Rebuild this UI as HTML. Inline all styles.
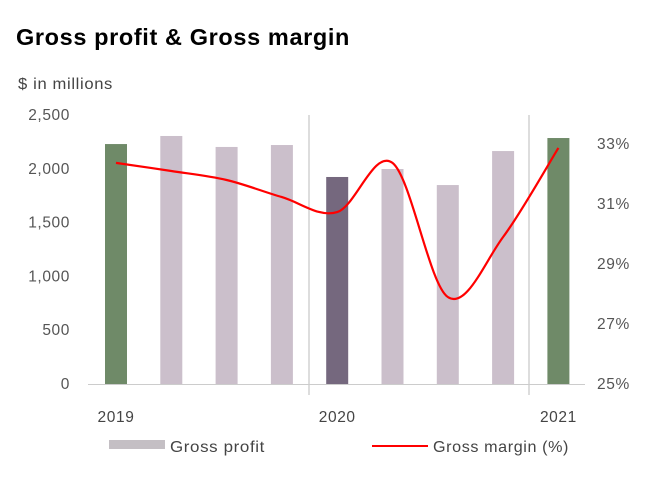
<!DOCTYPE html>
<html><head><meta charset="utf-8"><style>
body{margin:0;background:#fff;width:671px;height:492px;overflow:hidden;font-family:"Liberation Sans",sans-serif}
text{letter-spacing:0.6px}
</style></head><body>
<svg width="671" height="492">
<text x="16" y="45" font-size="23" font-weight="bold" fill="#000" textLength="334" lengthAdjust="spacingAndGlyphs">Gross profit &amp; Gross margin</text>
<text x="18" y="89" font-size="15.5" fill="#444" textLength="95" lengthAdjust="spacingAndGlyphs">$ in millions</text>
<g id="g"></g>
</svg>
<script>
const categories=["2019Q1","2019Q2","2019Q3","2019Q4","2020Q1","2020Q2","2020Q3","2020Q4","2021Q1"];
const grossProfit=[2230,2305,2203,2221,1924,1998,1849,2165,2286];
const grossMargin=[32.37,32.1,31.8,31.23,30.73,32.37,27.9,29.9,32.87];
const leftTicks=[0,500,1000,1500,2000,2500];
const rightTicks=[25,27,29,31,33];
const yearLabels=["2019","2020","2021"];
const yearIdx=[0,4,8];
const barColors=["#6f8a68","#cbbfcb","#cbbfcb","#cbbfcb","#75687e","#cbbfcb","#cbbfcb","#cbbfcb","#6f8a68"];
const NS="http://www.w3.org/2000/svg",g=document.getElementById('g');
const x=i=>116+i*55.3, yL=v=>384-v*269/2500, yR=v=>384-(v-25)*30;
function mk(t,a,txt){const e=document.createElementNS(NS,t);for(const k in a)e.setAttribute(k,a[k]);if(txt!=null)e.textContent=txt;g.appendChild(e);return e;}
leftTicks.forEach(v=>{const e=mk('text',{x:70,y:yL(v)+5,'font-size':15.5,fill:'#555','text-anchor':'end'},v.toLocaleString('en-US'));

});
rightTicks.forEach(v=>{const e=mk('text',{x:597,y:yR(v)+5,'font-size':15.5,fill:'#555'},v+'%');

});
[309,529].forEach(px=>{const e=mk('line',{x1:px,x2:px,y1:115,y2:395,stroke:'#bbb','stroke-width':1});

});
grossProfit.forEach((v,i)=>{const e=mk('rect',{x:x(i)-11,y:yL(v),width:22,height:384-yL(v),fill:barColors[i]});

});
const ax=mk('line',{x1:88,x2:585,y1:384.5,y2:384.5,stroke:'#ccc','stroke-width':1});


const p=grossMargin.map((v,i)=>[x(i),yR(v)]);
let d='M'+p[0][0]+','+p[0][1];
for(let i=0;i<p.length-1;i++){const p0=p[i-1]||p[i],p1=p[i],p2=p[i+1],p3=p[i+2]||p2;
d+=` C${p1[0]+(p2[0]-p0[0])/6},${p1[1]+(p2[1]-p0[1])/6} ${p2[0]-(p3[0]-p1[0])/6},${p2[1]-(p3[1]-p1[1])/6} ${p2[0]},${p2[1]}`;}
const ln=mk('path',{d:d,fill:'none',stroke:'#f00','stroke-width':2.2});


yearLabels.forEach((t,k)=>{const e=mk('text',{x:x(yearIdx[k]),y:422,'font-size':15.5,fill:'#444','text-anchor':'middle'},t);

});
const l1=mk('rect',{x:109,y:440,width:56,height:9,fill:'#c4bfc4'});


const l2=mk('text',{x:170,y:452,'font-size':16,fill:'#444',textLength:95,lengthAdjust:'spacingAndGlyphs'},'Gross profit');


const l3=mk('line',{x1:372,x2:428,y1:446,y2:446,stroke:'#f00','stroke-width':2});


const l4=mk('text',{x:433,y:452,'font-size':16,fill:'#444',textLength:136,lengthAdjust:'spacingAndGlyphs'},'Gross margin (%)');


</script>
</body></html>
